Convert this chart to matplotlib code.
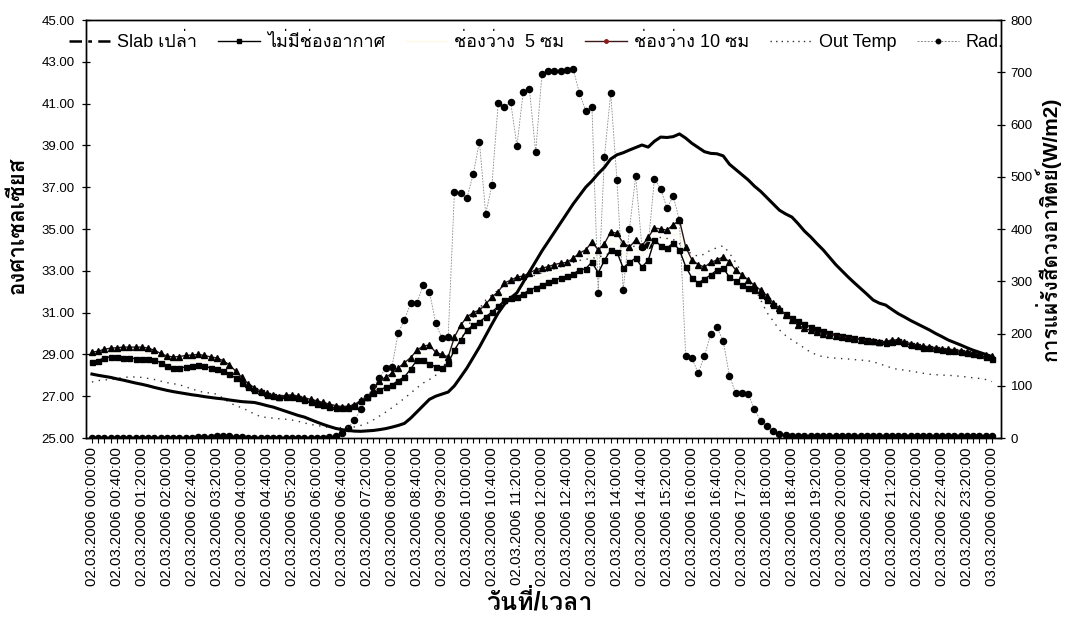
import numpy as np
import pandas as pd
import matplotlib
matplotlib.use("Agg")
import matplotlib.pyplot as plt
from matplotlib import font_manager
from matplotlib.ft2font import FT2Font
from matplotlib.lines import Line2D

# ---------------------------------------------------------------- data
times = pd.date_range("2006-03-02 00:00:00", periods=145, freq="10min")

slab_bare = [
    28.06, 28.00, 27.95, 27.90, 27.83, 27.77, 27.70, 27.63,
    27.57, 27.50, 27.42, 27.35, 27.28, 27.22, 27.17, 27.12,
    27.07, 27.03, 26.98, 26.94, 26.90, 26.87, 26.82, 26.78,
    26.74, 26.72, 26.70, 26.63, 26.55, 26.48, 26.38, 26.28,
    26.18, 26.08, 26.00, 25.88, 25.76, 25.65, 25.55, 25.46,
    25.40, 25.36, 25.33, 25.32, 25.34, 25.36, 25.40, 25.45,
    25.52, 25.60, 25.70, 25.95, 26.25, 26.55, 26.85, 27.00,
    27.10, 27.20, 27.50, 27.92, 28.35, 28.85, 29.35, 29.90,
    30.45, 30.98, 31.40, 31.70, 31.95, 32.45, 32.95, 33.45,
    33.95, 34.40, 34.85, 35.30, 35.75, 36.20, 36.60, 37.00,
    37.30, 37.65, 37.95, 38.35, 38.55, 38.65, 38.78, 38.90,
    39.02, 38.92, 39.20, 39.40, 39.38, 39.42, 39.55, 39.35,
    39.10, 38.90, 38.70, 38.62, 38.60, 38.50, 38.10, 37.85,
    37.60, 37.35, 37.05, 36.80, 36.50, 36.20, 35.90, 35.72,
    35.57, 35.25, 34.90, 34.62, 34.30, 34.00, 33.65, 33.30,
    33.00, 32.70, 32.42, 32.15, 31.88, 31.60, 31.45, 31.36,
    31.15, 30.95, 30.79, 30.62, 30.47, 30.32, 30.17, 30.00,
    29.85, 29.69, 29.57, 29.45, 29.32, 29.20, 29.10, 29.00,
    28.90,
]

no_gap = [
    28.64, 28.70, 28.85, 28.88, 28.88, 28.85, 28.82, 28.80,
    28.80, 28.78, 28.75, 28.60, 28.45, 28.35, 28.35, 28.40,
    28.44, 28.47, 28.44, 28.35, 28.28, 28.20, 28.05, 27.87,
    27.65, 27.44, 27.30, 27.18, 27.08, 27.02, 26.98, 26.96,
    26.95, 26.90, 26.80, 26.72, 26.65, 26.58, 26.50, 26.44,
    26.42, 26.45, 26.55, 26.75, 26.96, 27.15, 27.30, 27.42,
    27.54, 27.75, 27.92, 28.30, 28.73, 28.73, 28.55, 28.40,
    28.35, 28.60, 29.20, 29.70, 30.17, 30.40, 30.55, 30.80,
    31.03, 31.30, 31.60, 31.70, 31.75, 31.90, 32.08, 32.20,
    32.30, 32.45, 32.56, 32.66, 32.75, 32.85, 33.04, 33.10,
    33.42, 32.90, 33.50, 34.00, 33.90, 33.13, 33.40, 33.61,
    33.18, 33.50, 34.47, 34.20, 34.09, 34.33, 34.00, 33.20,
    32.66, 32.42, 32.60, 32.80, 33.04, 33.13, 32.70, 32.50,
    32.32, 32.20, 32.08, 31.85, 31.60, 31.35, 31.12, 30.92,
    30.74, 30.60, 30.45, 30.31, 30.20, 30.10, 30.02, 29.95,
    29.88, 29.83, 29.78, 29.72, 29.67, 29.62, 29.58, 29.55,
    29.60, 29.62, 29.55, 29.45, 29.38, 29.33, 29.30, 29.25,
    29.22, 29.18, 29.15, 29.10, 29.05, 29.00, 28.95, 28.88,
    28.80,
]

gap_5cm = [
    28.85, 28.90, 29.02, 29.08, 29.10, 29.08, 29.05, 29.05,
    29.05, 29.02, 28.98, 28.82, 28.68, 28.60, 28.62, 28.66,
    28.70, 28.72, 28.68, 28.60, 28.55, 28.45, 28.28, 28.05,
    27.80, 27.55, 27.38, 27.22, 27.12, 27.05, 27.00, 27.00,
    27.00, 26.95, 26.86, 26.78, 26.70, 26.63, 26.56, 26.50,
    26.46, 26.48, 26.58, 26.78, 26.96, 27.22, 27.50, 27.65,
    27.80, 28.02, 28.25, 28.55, 28.95, 29.05, 29.00, 28.75,
    28.65, 28.75, 29.50, 30.05, 30.45, 30.70, 30.85, 31.10,
    31.40, 31.65, 32.00, 32.10, 32.20, 32.30, 32.48, 32.60,
    32.70, 32.82, 32.92, 33.00, 33.08, 33.20, 33.45, 33.55,
    33.90, 33.45, 33.90, 34.45, 34.35, 33.75, 33.80, 34.05,
    33.70, 34.05, 34.75, 34.60, 34.50, 34.75, 34.70, 33.70,
    33.10, 32.85, 32.90, 33.10, 33.30, 33.40, 33.05, 32.78,
    32.56, 32.38, 32.20, 31.95, 31.70, 31.40, 31.16, 30.90,
    30.70, 30.50, 30.35, 30.23, 30.13, 30.05, 29.98, 29.92,
    29.86, 29.81, 29.76, 29.71, 29.66, 29.62, 29.59, 29.58,
    29.65, 29.65, 29.58, 29.48, 29.41, 29.36, 29.33, 29.28,
    29.25, 29.21, 29.18, 29.14, 29.08, 29.04, 28.98, 28.93,
    28.86,
]

gap_10cm = [
    29.11, 29.15, 29.25, 29.30, 29.32, 29.35, 29.35, 29.35,
    29.35, 29.30, 29.20, 29.05, 28.92, 28.88, 28.90, 28.95,
    28.97, 29.00, 28.95, 28.88, 28.83, 28.70, 28.50, 28.20,
    27.90, 27.60, 27.40, 27.25, 27.15, 27.05, 26.98, 27.05,
    27.06, 27.00, 26.92, 26.85, 26.78, 26.70, 26.62, 26.55,
    26.50, 26.52, 26.60, 26.80, 26.96, 27.30, 27.75, 27.90,
    28.10, 28.35, 28.60, 28.85, 29.20, 29.40, 29.45, 29.10,
    29.00, 28.88, 29.83, 30.40, 30.79, 31.00, 31.12, 31.40,
    31.75, 32.00, 32.42, 32.55, 32.70, 32.75, 32.90, 33.05,
    33.13, 33.20, 33.30, 33.37, 33.40, 33.60, 33.85, 34.00,
    34.38, 34.00, 34.30, 34.86, 34.80, 34.33, 34.14, 34.47,
    34.20, 34.60, 35.05, 35.00, 34.95, 35.20, 35.43, 34.14,
    33.52, 33.30, 33.18, 33.40, 33.52, 33.66, 33.42, 33.04,
    32.80, 32.56, 32.30, 32.08, 31.80, 31.46, 31.20, 30.89,
    30.65, 30.40, 30.25, 30.15, 30.07, 30.00, 29.95, 29.90,
    29.85, 29.80, 29.75, 29.70, 29.66, 29.62, 29.60, 29.62,
    29.70, 29.68, 29.60, 29.52, 29.45, 29.40, 29.36, 29.32,
    29.28, 29.25, 29.22, 29.18, 29.12, 29.08, 29.02, 28.98,
    28.92,
]

out_temp = [
    27.68, 27.75, 27.78, 27.80, 27.85, 27.90, 27.92, 27.92,
    27.90, 27.85, 27.80, 27.72, 27.65, 27.60, 27.55, 27.45,
    27.35, 27.25, 27.18, 27.15, 27.10, 26.90, 26.70, 26.55,
    26.45, 26.30, 26.15, 26.02, 25.98, 25.95, 25.92, 25.90,
    25.86, 25.80, 25.72, 25.65, 25.60, 25.55, 25.50, 25.48,
    25.50, 25.52, 25.53, 25.60, 25.70, 25.86, 26.05, 26.24,
    26.45, 26.67, 26.90, 27.15, 27.40, 27.63, 27.80, 28.00,
    28.35, 28.73, 29.20, 29.69, 30.25, 30.79, 31.20, 31.60,
    31.85, 32.08, 32.30, 32.45, 32.55, 32.65, 32.70, 32.80,
    32.90, 33.00, 33.10, 33.20, 33.30, 33.40, 33.50, 33.55,
    33.60, 33.65, 33.75, 33.85, 33.90, 34.00, 34.10, 34.20,
    34.30, 34.40, 34.50, 34.60, 34.55, 34.50, 34.30, 34.00,
    33.80, 33.70, 33.80, 34.00, 34.10, 34.20, 33.85, 33.40,
    32.90, 32.50, 32.20, 31.60, 31.00, 30.60, 30.17, 29.90,
    29.69, 29.50, 29.30, 29.10, 28.98, 28.88, 28.85, 28.82,
    28.80, 28.78, 28.75, 28.73, 28.70, 28.65, 28.55, 28.45,
    28.35, 28.28, 28.25, 28.20, 28.15, 28.10, 28.05, 28.03,
    28.01, 28.00, 27.98, 27.95, 27.92, 27.88, 27.85, 27.80,
    27.70,
]

radiation = [
    0, 0, 0, 0, 0, 0, 0, 0,
    0, 0, 0, 0, 0, 0, 0, 0,
    0, 1, 2, 2, 3, 4, 3, 2,
    1, 0, 0, 0, 0, 0, 0, 0,
    0, 0, 0, 0, 0, 0, 1, 3,
    10, 20, 34, 55, 78, 98, 115, 134,
    136, 201, 226, 258, 258, 293, 280, 220,
    191, 193, 471, 469, 459, 505, 567, 429,
    484, 641, 634, 643, 559, 662, 668, 547,
    697, 702, 702, 702, 704, 706, 660, 626,
    634, 277, 538, 660, 494, 283, 400, 501,
    365, 370, 496, 477, 440, 463, 417, 157,
    153, 124, 157, 199, 212, 186, 119, 86,
    86, 84, 55, 33, 23, 13, 8, 5,
    4, 4, 4, 4, 4, 4, 4, 4,
    4, 4, 4, 4, 4, 4, 4, 4,
    4, 4, 4, 4, 4, 4, 4, 4,
    4, 4, 4, 4, 4, 4, 4, 4,
    4,
]

series_names = ["Slab เปล่า", "ไม่มีช่องอากาศ", "ช่องว่าง  5 ซม",
                "ช่องว่าง 10 ซม", "Out Temp", "Rad."]
tick_labels = [t.strftime("%d.%m.%Y %H:%M:%S") for t in times]
left_ticks = np.arange(25, 45.01, 2)
right_ticks = np.arange(0, 801, 100)


# ---------------------------------------------------------------- fonts
def thai_capable_fonts():
    found = []
    for fe in font_manager.fontManager.ttflist:
        try:
            if 0x0E01 in FT2Font(fe.fname).get_charmap():
                if fe.name not in found:
                    found.append(fe.name)
        except Exception:
            pass
    return found


thai_fonts = thai_capable_fonts()
families = ["Liberation Sans"] + thai_fonts + ["DejaVu Sans"]
plt.rcParams["font.family"] = families

# ---------------------------------------------------------------- figure
fig = plt.figure(figsize=(10.72, 6.22), dpi=100)
ax = fig.add_axes([0.0802, 0.2958, 0.8536, 0.6720])
ax2 = ax.twinx()

x = np.arange(len(times))

ax.plot(x, gap_5cm, color="#fbf9e4", lw=0.8, zorder=2)
ax.plot(x, slab_bare, color="black", lw=2.2, zorder=5)
ax.plot(x, no_gap, color="black", lw=1.0, marker="s", ms=3.6,
        mec="black", mfc="black", zorder=4)
ax.plot(x, gap_10cm, color="#2a1414", lw=1.0, marker="^", ms=3.8,
        mec="black", mfc="black", zorder=4)
ax.plot(x, out_temp, color="#333333", lw=1.0, ls=(0, (1, 4)), zorder=3)
ax2.plot(x, radiation, color="#8a8a8a", lw=0.6, ls=(0, (2, 1.5)),
         marker="o", ms=4.4, mec="black", mfc="black", zorder=3)

ax.set_zorder(ax2.get_zorder() + 1)
ax.patch.set_visible(False)

ax.set_xlim(-0.95, 145.45)
ax.set_ylim(25, 45)
ax2.set_ylim(0, 800)

ax.set_yticks(left_ticks)
ax.set_yticklabels([f"{v:.2f}" for v in left_ticks], fontsize=9.5)
ax2.set_yticks(right_ticks)
ax2.set_yticklabels([f"{v:d}" for v in right_ticks], fontsize=9.5)

ax.set_xticks(x[::4])
ax.set_xticklabels(tick_labels[::4], rotation=90, fontsize=10.8)
ax.set_xticks(x, minor=True)

ax.tick_params(axis="y", direction="inout", length=6, width=0.9, pad=5)
ax2.tick_params(axis="y", direction="inout", length=6, width=0.9, pad=4)
ax.tick_params(axis="x", which="both", direction="out", length=3.5,
               width=0.8, pad=3)

for sp in ax.spines.values():
    sp.set_linewidth(1.0)
for sp in ax2.spines.values():
    sp.set_linewidth(1.0)

ax.set_ylabel("องศาเซลเซียส", fontsize=16, fontweight="bold")
ax.yaxis.set_label_coords(-0.062, 0.51)
ax2.set_ylabel("การแผ่รังสีดวงอาทิตย์(W/m2)", fontsize=15,
               fontweight="bold", rotation=90)
ax2.yaxis.set_label_coords(1.036, 0.50)
ax.set_xlabel("วันที่/เวลา", fontsize=18, fontweight="bold")
ax.xaxis.set_label_coords(0.496, -0.362)

handles = [
    Line2D([], [], color="black", lw=1.8, ls=(0, (5, 2.5, 1.5, 2.5))),
    Line2D([], [], color="black", lw=1.0, marker="s", ms=2.5),
    Line2D([], [], color="#fbf9e4", lw=1.0),
    Line2D([], [], color="#3a1a1a", lw=1.0, marker="o", ms=2.5,
           mfc="#8b1a1a", mec="#8b1a1a"),
    Line2D([], [], color="#333333", lw=1.0, ls=(0, (1, 3))),
    Line2D([], [], color="#888888", lw=0.7, ls=(0, (2, 1.5)),
           marker="o", ms=3.2, mfc="black", mec="black"),
]
ax.legend(handles, series_names, loc="center", ncol=6, frameon=False,
          bbox_to_anchor=(0.492, 0.947), fontsize=13, handlelength=2.3,
          handletextpad=0.4, columnspacing=1.15, borderaxespad=0)

fig.savefig("out.png", dpi=100)
